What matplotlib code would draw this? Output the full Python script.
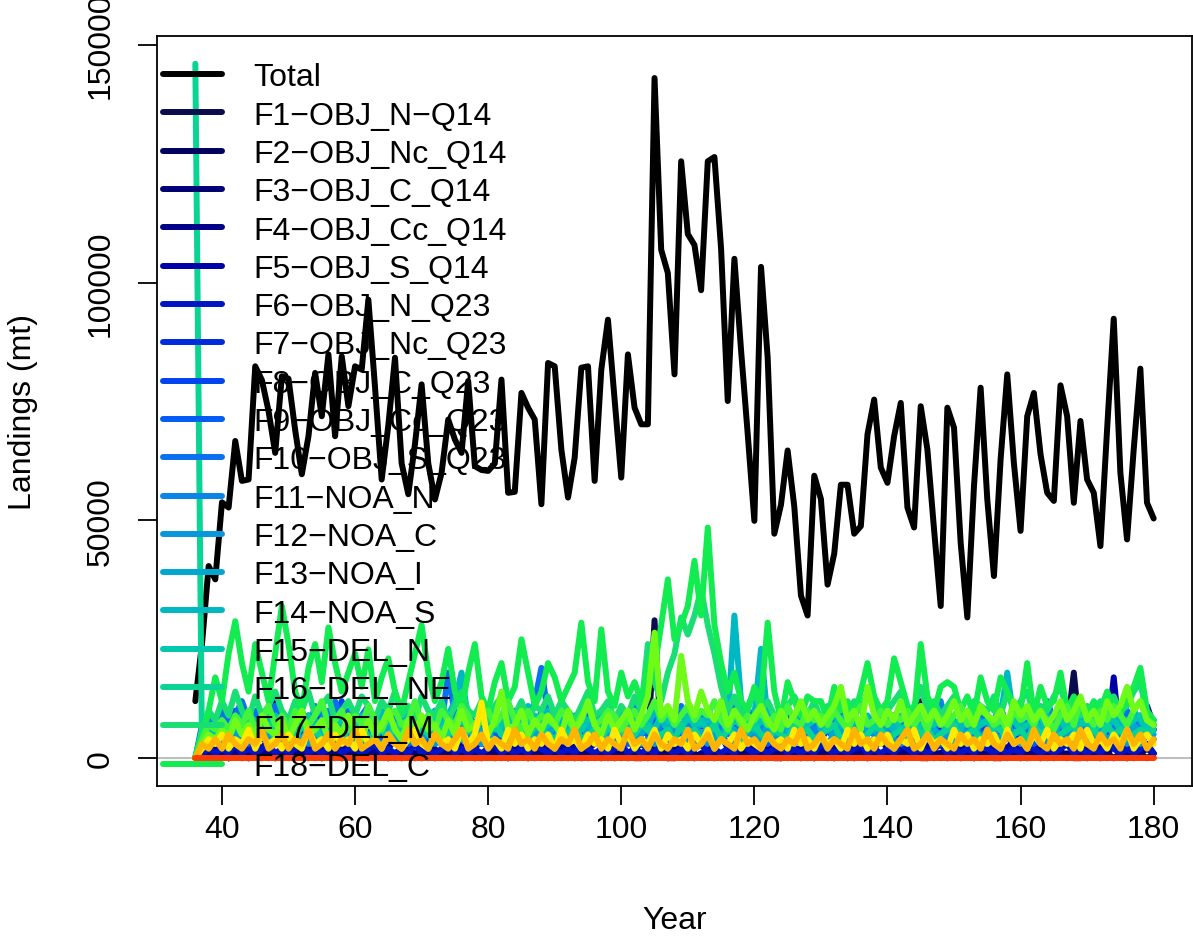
import numpy as np
import matplotlib
matplotlib.use("Agg")
import matplotlib.pyplot as plt

plt.rcParams["font.family"] = ["Liberation Sans", "DejaVu Sans"]

# ---- data (landings in thousand mt, years 36..180) ----
years = list(range(36, 181))

total_kt = [
    12, 24, 40.4, 37.6,
    53.8, 52.7, 66.7, 58.3, 58.6, 82.4, 79.5, 73, 64.2, 80.3,
    79.8, 69, 59.7, 67.7, 81, 71.9, 84.9, 67.7, 84.5, 74,
    82.4, 81.7, 96.4, 78, 58.6, 70, 84.2, 62, 55.5, 66,
    78.6, 62, 54.4, 60, 71.2, 67, 64.2, 79.3, 61.4, 60.6,
    60.4, 62, 79.6, 55.8, 56, 76.8, 73.7, 71.2, 53.4, 83.1,
    82.4, 64.9, 54.8, 63.2, 82.1, 82.4, 58.3, 81.7, 92.2, 75.4,
    59, 84.9, 73.7, 70.2, 70.2, 143, 106.9, 102, 80.7, 125.5,
    110.2, 107.9, 98.4, 125.5, 126.4, 107.1, 75.1, 105, 85.8, 68.2,
    49.9, 103.3, 84.2, 47.2, 53.3, 64.7, 52.9, 34.2, 30, 59.4,
    54.5, 36.5, 43, 57.5, 57.5, 47.2, 48.8, 68.1, 75.4, 61.1,
    57.9, 67.7, 74.7, 52.7, 48.5, 74, 64.9, 48.1, 32, 73.7,
    69.5, 45.3, 29.6, 57.2, 77.9, 54.4, 38.3, 62.8, 80.7, 62,
    47.8, 71.9, 76.8, 63.9, 55.8, 54.1, 78.4, 71.9, 53.7, 70.9,
    58.6, 55.8, 44.6, 69.1, 92.4, 60, 46, 64.9, 81.9, 53.7,
    50.4,
]

fleet_names = [
    "F1\u2212OBJ_N\u2212Q14", "F2\u2212OBJ_Nc_Q14", "F3\u2212OBJ_C_Q14",
    "F4\u2212OBJ_Cc_Q14", "F5\u2212OBJ_S_Q14", "F6\u2212OBJ_N_Q23",
    "F7\u2212OBJ_Nc_Q23", "F8\u2212OBJ_C_Q23", "F9\u2212OBJ_Cc_Q23",
    "F10\u2212OBJ_S_Q23", "F11\u2212NOA_N", "F12\u2212NOA_C",
    "F13\u2212NOA_I", "F14\u2212NOA_S", "F15\u2212DEL_N",
    "F16\u2212DEL_NE", "F17\u2212DEL_M", "F18\u2212DEL_C",
    "F19", "F20", "F21", "F22", "F23",
]

f1 = [
    0, 0, 1, 0,
    1, 0, 1, 1, 0, 1, 2, 1, 0, 1,
    1, 0, 1, 9, 1, 0, 1, 2, 0, 1,
    1, 0, 1, 0, 1, 1, 0, 1, 1, 0,
    1, 0, 1, 1, 0, 1, 0, 1, 1, 0,
    1, 1, 0, 1, 0, 1, 1, 0, 1, 1,
    0, 1, 1, 0, 1, 0, 1, 1, 0, 1,
    1, 0, 1, 0, 2, 29, 3, 1, 0, 5,
    1, 0, 1, 1, 0, 1, 1, 0, 1, 0,
    1, 1, 0, 1, 0, 1, 1, 0, 1, 0,
    1, 1, 0, 1, 1, 0, 1, 0, 1, 1,
    0, 1, 1, 3, 4, 12, 3, 1, 0, 1,
    1, 0, 1, 1, 0, 1, 1, 0, 1, 1,
    1, 0, 1, 1, 3, 9, 2, 6, 18, 4,
    1, 1, 0, 1, 4, 1, 0, 1, 1, 3,
    1,
]
f2 = [
    0, 1, 1, 0,
    1, 0, 1, 0, 1, 1, 0, 1, 0, 1,
    0, 1, 1, 0, 1, 0, 1, 1, 0, 1,
    1, 0, 0, 1, 1, 0, 1, 0, 1, 1,
    0, 1, 0, 1, 1, 0, 1, 1, 0, 1,
    1, 0, 1, 0, 1, 1, 0, 1, 1, 0,
    1, 1, 0, 1, 0, 1, 1, 0, 1, 0,
    1, 1, 0, 0, 1, 1, 1, 0, 0, 1,
    1, 0, 1, 0, 1, 1, 0, 1, 0, 1,
    0, 1, 1, 0, 0, 1, 1, 0, 1, 0,
    1, 0, 1, 1, 0, 1, 1, 0, 1, 1,
    0, 1, 0, 1, 1, 0, 0, 1, 1, 0,
    1, 0, 1, 0, 1, 1, 0, 0, 1, 1,
    0, 1, 1, 0, 1, 0, 1, 1, 0, 0,
    1, 1, 0, 1, 0, 1, 0, 1, 1, 0,
    1,
]
f3 = [
    0, 1, 1, 0,
    1, 0, 2, 1, 0, 3, 1, 0, 13, 2,
    1, 0, 2, 1, 0, 1, 3, 0, 1, 2,
    0, 1, 0, 2, 1, 0, 1, 0, 2, 1,
    0, 1, 2, 0, 1, 0, 2, 1, 0, 1,
    2, 0, 1, 0, 1, 2, 0, 1, 0, 2,
    1, 0, 1, 2, 0, 1, 0, 2, 1, 0,
    1, 0, 2, 1, 0, 3, 1, 0, 2, 1,
    0, 1, 0, 2, 1, 0, 1, 0, 2, 0,
    1, 0, 2, 1, 0, 1, 0, 2, 1, 0,
    1, 2, 0, 1, 0, 2, 1, 0, 1, 0,
    2, 1, 0, 3, 8, 6, 1, 0, 1, 2,
    0, 1, 2, 0, 1, 0, 2, 1, 0, 1,
    2, 0, 1, 2, 0, 3, 1, 8, 6, 1,
    0, 2, 1, 0, 4, 1, 0, 2, 1, 10,
    6,
]
f4 = [
    0, 1, 0, 1,
    1, 0, 1, 1, 0, 1, 2, 1, 0, 1,
    1, 0, 1, 2, 1, 0, 1, 1, 0, 1,
    2, 1, 0, 1, 1, 0, 1, 2, 1, 0,
    1, 1, 0, 1, 2, 1, 0, 1, 1, 0,
    1, 2, 1, 0, 1, 1, 0, 1, 2, 1,
    0, 1, 1, 0, 1, 2, 1, 0, 1, 1,
    0, 1, 2, 1, 0, 1, 1, 0, 1, 2,
    1, 0, 1, 1, 0, 1, 2, 1, 0, 1,
    1, 0, 1, 2, 1, 0, 1, 1, 0, 1,
    2, 1, 0, 1, 1, 0, 1, 2, 1, 0,
    1, 1, 0, 1, 2, 1, 0, 1, 1, 0,
    1, 2, 1, 0, 1, 1, 0, 1, 2, 1,
    0, 1, 1, 0, 1, 2, 1, 0, 1, 1,
    0, 1, 2, 1, 0, 1, 1, 0, 1, 2,
    1,
]
f5 = [
    0, 2, 3, 2,
    4, 2, 3, 5, 2, 3, 2, 4, 6, 3,
    2, 4, 2, 3, 5, 2, 7, 3, 2, 4,
    2, 3, 5, 2, 3, 2, 4, 2, 3, 5,
    2, 2, 4, 3, 2, 5, 2, 3, 2, 4,
    2, 3, 2, 4, 2, 3, 5, 2, 3, 2,
    4, 2, 3, 2, 5, 2, 3, 4, 2, 3,
    2, 4, 2, 3, 2, 10, 3, 2, 4, 2,
    3, 2, 4, 2, 3, 5, 2, 3, 2, 4,
    2, 3, 2, 4, 2, 3, 2, 2, 4, 2,
    3, 2, 2, 4, 3, 2, 2, 3, 2, 4,
    2, 3, 2, 4, 5, 9, 2, 2, 3, 2,
    4, 2, 3, 2, 2, 4, 2, 3, 2, 4,
    2, 3, 2, 4, 2, 5, 3, 8, 11, 4,
    2, 3, 2, 4, 17, 3, 2, 4, 3, 11,
    7,
]
f6 = [
    0, 1, 2, 1,
    2, 1, 3, 1, 2, 1, 2, 3, 1, 2,
    1, 2, 3, 1, 2, 1, 2, 3, 1, 2,
    2, 1, 2, 3, 1, 2, 1, 2, 1, 3,
    1, 2, 1, 2, 3, 1, 2, 1, 2, 1,
    2, 3, 1, 2, 1, 2, 1, 3, 2, 1,
    2, 1, 2, 1, 3, 2, 1, 2, 1, 2,
    3, 1, 2, 1, 2, 1, 3, 2, 1, 2,
    1, 2, 3, 1, 2, 1, 2, 1, 3, 2,
    1, 2, 1, 2, 3, 1, 2, 1, 2, 1,
    3, 2, 1, 2, 1, 2, 3, 1, 2, 1,
    2, 1, 3, 2, 1, 2, 1, 2, 3, 1,
    2, 1, 2, 1, 3, 2, 1, 2, 1, 2,
    1, 3, 2, 1, 2, 1, 2, 3, 1, 2,
    1, 2, 1, 3, 2, 1, 2, 1, 2, 3,
    1,
]
f7 = [
    0, 4, 6, 5,
    7, 5, 4, 6, 8, 5, 4, 7, 5, 6,
    4, 8, 5, 4, 6, 11, 5, 4, 7, 5,
    6, 4, 5, 7, 4, 6, 5, 4, 8, 5,
    4, 6, 5, 7, 4, 5, 6, 4, 5, 7,
    5, 4, 6, 5, 4, 7, 5, 6, 4, 5,
    6, 5, 4, 7, 5, 4, 6, 5, 4, 6,
    5, 4, 7, 5, 6, 4, 5, 8, 4, 6,
    5, 6, 4, 5, 7, 4, 6, 5, 4, 5,
    6, 4, 5, 7, 4, 6, 5, 4, 6, 5,
    4, 6, 5, 4, 7, 5, 4, 6, 5, 4,
    6, 5, 4, 7, 5, 6, 4, 5, 6, 4,
    5, 4, 6, 5, 4, 7, 5, 4, 6, 5,
    4, 6, 5, 4, 6, 5, 7, 4, 5, 6,
    4, 5, 6, 4, 5, 7, 5, 4, 6, 5,
    6,
]
f8 = [
    0, 6, 9, 7,
    8, 6, 10, 7, 5, 9, 6, 8, 11, 7,
    5, 8, 10, 6, 9, 7, 5, 8, 12, 6,
    9, 7, 5, 8, 6, 10, 7, 5, 9, 6,
    8, 5, 7, 10, 6, 8, 5, 9, 7, 6,
    8, 10, 6, 5, 9, 7, 6, 8, 5, 7,
    9, 6, 8, 5, 7, 10, 6, 8, 5, 9,
    6, 7, 5, 9, 6, 8, 7, 5, 8, 6,
    9, 5, 7, 6, 8, 5, 9, 6, 7, 5,
    8, 6, 9, 5, 7, 6, 8, 5, 6, 9,
    5, 7, 6, 8, 5, 9, 6, 7, 5, 8,
    6, 9, 5, 7, 6, 8, 5, 6, 9, 7,
    5, 8, 6, 7, 5, 9, 6, 8, 5, 7,
    6, 5, 8, 7, 6, 9, 5, 7, 6, 8,
    5, 7, 9, 6, 5, 8, 6, 7, 5, 9,
    6,
]
f9 = [
    0, 3, 5, 4,
    5, 3, 6, 4, 3, 5, 7, 4, 3, 5,
    6, 4, 3, 5, 4, 6, 3, 5, 7, 4,
    3, 5, 4, 6, 3, 4, 5, 7, 3, 4,
    5, 3, 6, 4, 5, 3, 4, 6, 5, 3,
    4, 6, 3, 5, 4, 3, 6, 4, 5, 7,
    3, 4, 5, 6, 3, 5, 4, 3, 6, 4,
    5, 3, 4, 6, 5, 3, 4, 5, 3, 6,
    4, 5, 3, 4, 6, 5, 3, 4, 5, 3,
    6, 4, 3, 5, 4, 6, 3, 5, 4, 3,
    5, 6, 4, 3, 5, 4, 6, 3, 4, 5,
    3, 4, 6, 5, 3, 4, 5, 6, 3, 4,
    5, 3, 4, 6, 5, 3, 4, 5, 6, 3,
    4, 5, 3, 4, 6, 5, 3, 4, 5, 6,
    3, 4, 5, 3, 6, 4, 5, 3, 4, 5,
    4,
]
f10 = [
    0, 7, 9, 8,
    10, 7, 9, 12, 8, 10, 7, 9, 11, 8,
    7, 10, 8, 6, 11, 9, 7, 12, 8, 10,
    6, 9, 11, 7, 8, 10, 6, 9, 7, 11,
    8, 6, 10, 7, 18, 9, 7, 10, 6, 8,
    11, 7, 9, 6, 10, 8, 7, 12, 19, 9,
    7, 10, 8, 6, 9, 11, 7, 8, 10, 6,
    9, 7, 11, 8, 6, 10, 7, 9, 8, 11,
    6, 9, 7, 10, 8, 6, 9, 11, 7, 8,
    10, 6, 8, 9, 7, 11, 6, 8, 10, 7,
    9, 6, 8, 10, 7, 9, 11, 6, 8, 7,
    10, 8, 6, 9, 7, 11, 8, 6, 9, 10,
    7, 8, 6, 10, 9, 7, 8, 11, 6, 9,
    8, 7, 10, 6, 12, 8, 9, 7, 10, 6,
    8, 9, 7, 11, 6, 8, 10, 7, 9, 8,
    7,
]
f11 = [
    0, 5, 8, 6,
    7, 5, 9, 6, 8, 5, 7, 10, 6, 8,
    5, 7, 9, 6, 5, 8, 10, 6, 7, 5,
    9, 6, 8, 5, 7, 6, 9, 5, 8, 7,
    6, 9, 5, 7, 8, 6, 10, 5, 7, 9,
    6, 8, 5, 7, 9, 6, 8, 5, 10, 7,
    5, 8, 6, 9, 7, 5, 8, 6, 7, 9,
    5, 7, 8, 6, 9, 5, 7, 8, 6, 10,
    7, 5, 9, 6, 8, 7, 5, 9, 6, 8,
    5, 7, 6, 9, 8, 5, 7, 6, 9, 5,
    8, 6, 7, 5, 9, 6, 8, 7, 5, 9,
    6, 8, 5, 7, 6, 9, 5, 8, 12, 6,
    7, 5, 9, 6, 8, 7, 5, 9, 6, 8,
    5, 7, 6, 9, 12, 6, 8, 5, 7, 9,
    6, 8, 5, 7, 9, 6, 8, 5, 7, 6,
    8,
]
f12 = [
    0, 3, 4, 3,
    4, 3, 5, 3, 4, 3, 5, 4, 3, 4,
    5, 3, 4, 3, 5, 4, 3, 4, 5, 3,
    4, 3, 5, 4, 3, 4, 3, 5, 4, 3,
    4, 5, 3, 4, 3, 5, 4, 3, 4, 3,
    5, 4, 3, 4, 5, 3, 4, 3, 5, 4,
    3, 4, 3, 5, 4, 3, 4, 5, 3, 4,
    3, 5, 4, 3, 4, 3, 5, 4, 3, 4,
    5, 3, 4, 3, 5, 4, 3, 4, 3, 5,
    4, 3, 4, 5, 3, 4, 3, 5, 4, 3,
    4, 3, 5, 4, 3, 4, 5, 3, 4, 3,
    5, 4, 3, 4, 3, 5, 4, 3, 4, 5,
    3, 4, 3, 5, 4, 3, 4, 3, 5, 4,
    3, 4, 5, 3, 4, 3, 5, 4, 3, 4,
    3, 5, 4, 3, 4, 5, 3, 4, 3, 5,
    4,
]
f13 = [
    0, 4, 6, 5,
    6, 4, 7, 5, 6, 4, 8, 5, 6, 4,
    7, 5, 4, 6, 5, 8, 4, 6, 5, 7,
    4, 6, 5, 4, 7, 6, 4, 5, 8, 4,
    6, 5, 7, 4, 6, 5, 4, 7, 5, 6,
    4, 8, 5, 6, 4, 7, 5, 4, 6, 5,
    7, 4, 6, 5, 8, 4, 5, 6, 4, 7,
    5, 6, 4, 5, 7, 6, 4, 5, 8, 6,
    4, 7, 5, 6, 4, 5, 7, 6, 4, 5,
    6, 4, 7, 5, 6, 4, 5, 8, 6, 4,
    5, 7, 4, 6, 5, 4, 7, 5, 6, 4,
    8, 5, 6, 4, 7, 5, 4, 6, 5, 7,
    4, 6, 5, 8, 4, 6, 5, 4, 7, 5,
    6, 4, 5, 7, 6, 4, 8, 5, 6, 4,
    5, 7, 6, 4, 5, 6, 4, 7, 5, 6,
    5,
]
f14 = [
    0, 4, 6, 5,
    7, 5, 8, 6, 10, 7, 5, 9, 6, 8,
    5, 7, 10, 6, 8, 5, 7, 9, 6, 8,
    5, 9, 7, 6, 10, 8, 5, 7, 9, 6,
    8, 6, 10, 7, 9, 12, 18, 8, 6, 9,
    7, 10, 6, 8, 9, 7, 11, 6, 8, 10,
    7, 9, 6, 8, 10, 7, 6, 9, 8, 7,
    10, 6, 8, 9, 7, 10, 8, 6, 9, 7,
    8, 10, 7, 9, 6, 12, 8, 30, 12, 7,
    9, 23, 8, 7, 10, 6, 9, 8, 7, 10,
    6, 8, 9, 7, 10, 6, 8, 9, 7, 8,
    10, 6, 9, 8, 7, 10, 6, 8, 9, 7,
    8, 6, 9, 10, 7, 8, 6, 9, 18, 8,
    7, 10, 8, 6, 9, 7, 10, 8, 6, 9,
    7, 8, 10, 6, 9, 8, 7, 10, 8, 6,
    8,
]
f15 = [
    0, 5, 7, 6,
    8, 6, 7, 9, 6, 8, 7, 6, 9, 7,
    6, 8, 7, 9, 6, 7, 8, 6, 9, 7,
    8, 6, 7, 9, 6, 8, 7, 6, 8, 9,
    6, 7, 8, 6, 9, 7, 8, 6, 7, 9,
    8, 6, 7, 9, 6, 8, 7, 9, 6, 7,
    8, 6, 9, 7, 6, 8, 9, 7, 6, 8,
    7, 9, 6, 8, 7, 6, 9, 8, 7, 6,
    9, 7, 8, 6, 7, 9, 6, 8, 7, 9,
    6, 8, 7, 6, 9, 7, 8, 6, 7, 8,
    9, 6, 7, 8, 6, 9, 7, 8, 6, 7,
    8, 9, 6, 7, 8, 6, 9, 7, 8, 6,
    7, 8, 9, 6, 7, 8, 6, 9, 7, 8,
    6, 7, 8, 9, 6, 7, 8, 6, 9, 7,
    8, 6, 7, 9, 8, 6, 7, 8, 9, 6,
    7,
]
f16 = [
    146, 2, 5, 4,
    6, 4, 7, 5, 4, 6, 5, 7, 4, 6,
    5, 4, 7, 5, 6, 4, 5, 7, 4, 6,
    5, 7, 4, 5, 6, 4, 7, 5, 4, 6,
    7, 5, 4, 6, 5, 7, 4, 6, 5, 4,
    6, 7, 5, 4, 6, 5, 4, 7, 6, 5,
    4, 6, 5, 7, 4, 5, 6, 4, 7, 5,
    6, 4, 5, 7, 6, 4, 5, 6, 4, 7,
    5, 6, 4, 5, 7, 4, 6, 5, 4, 6,
    7, 5, 4, 6, 5, 4, 7, 5, 6, 4,
    5, 6, 7, 4, 5, 6, 4, 5, 7, 6,
    4, 5, 6, 4, 7, 5, 6, 4, 5, 6,
    7, 4, 5, 6, 4, 5, 7, 6, 4, 5,
    6, 4, 7, 5, 6, 4, 5, 6, 7, 4,
    5, 6, 4, 7, 5, 6, 4, 5, 6, 5,
    6,
]
f17 = [
    0, 6, 10, 8,
    12, 9, 14, 10, 8, 13, 9, 11, 14, 10,
    8, 12, 10, 14, 9, 11, 13, 8, 10, 12,
    9, 13, 11, 8, 12, 10, 14, 9, 11, 8,
    13, 10, 9, 12, 8, 11, 14, 10, 9, 12,
    8, 11, 13, 10, 9, 12, 8, 11, 10, 13,
    9, 12, 10, 8, 11, 14, 9, 10, 12, 8,
    11, 9, 13, 10, 24, 16, 12, 18, 22, 29.6,
    26, 30, 35.5, 28, 22, 15, 10, 13, 9, 11,
    14, 10, 12, 9, 8, 11, 13, 10, 9, 12,
    8, 11, 10, 13, 9, 12, 10, 14, 11, 9,
    10, 12, 14, 9, 11, 15, 10, 12, 9, 11,
    13, 10, 9, 12, 11, 10, 13, 9, 14, 10,
    12, 14, 9, 11, 10, 13, 15, 10, 12, 9,
    11, 10, 12, 9, 13, 10, 11, 14, 16, 9,
    8,
]
f18 = [
    0.5, 4, 10, 17,
    12, 22, 28.8, 20, 14, 24, 18, 12, 22, 32,
    24, 14, 10, 19, 24, 16, 27.5, 20, 14, 18,
    22, 15, 22.9, 12, 17, 21, 14, 10, 16, 22,
    28, 18, 12, 16, 23, 14, 10, 18, 24, 13,
    10, 16, 20, 12, 15, 25, 18, 11, 14, 20,
    17, 12, 15, 18, 28.5, 16, 12, 27.1, 14, 11,
    18, 13, 16, 12, 20, 19, 28, 37.6, 25, 28,
    32, 41.5, 30, 48.5, 28, 20, 14, 18, 12, 10,
    15, 12, 28.5, 14, 8, 16, 12, 9, 13, 12,
    12, 8, 15, 10, 12, 9, 14, 20, 13, 10,
    12, 21, 16, 11, 9, 24, 13, 10, 15, 16,
    15, 10, 13, 9, 17, 12, 10, 17, 14, 11,
    10, 20, 9, 15, 11, 12, 18, 10, 13, 11,
    9, 12, 10, 14, 11, 9, 13, 15, 19, 10,
    8,
]
f19 = [
    0, 4, 7, 6,
    8, 6, 9, 7, 10, 6, 8, 11, 7, 9,
    6, 10, 8, 7, 9, 12, 7, 8, 10, 6,
    9, 7, 11, 8, 6, 9, 10, 7, 8, 12,
    7, 9, 6, 10, 8, 7, 11, 9, 6, 8,
    10, 7, 9, 12, 8, 6, 10, 7, 9, 8,
    7, 10, 8, 6, 9, 11, 7, 8, 10, 9,
    6, 8, 10, 7, 9, 12, 8, 10, 7, 9,
    11, 8, 10, 9, 12, 8, 6, 10, 7, 9,
    8, 10, 7, 9, 6, 11, 8, 7, 10, 8,
    9, 7, 10, 8, 6, 9, 11, 7, 8, 10,
    7, 9, 8, 10, 7, 9, 6, 10, 8, 7,
    9, 11, 7, 8, 10, 9, 7, 8, 6, 10,
    8, 9, 7, 10, 8, 6, 9, 11, 7, 12,
    9, 7, 10, 8, 11, 9, 7, 10, 12, 8,
    7,
]
f20 = [
    0, 3, 5, 4,
    6, 4, 8, 5, 7, 4, 9, 6, 5, 8,
    4, 7, 10, 5, 6, 8, 4, 7, 5, 9,
    6, 4, 8, 5, 7, 10, 6, 4, 8, 5,
    9, 6, 7, 4, 8, 5, 10, 6, 7, 9,
    5, 8, 14, 6, 7, 10, 5, 8, 6, 9,
    7, 5, 10, 6, 8, 12, 7, 5, 9, 6,
    8, 10, 6, 9, 13, 26.4, 9, 11, 8, 21.5,
    12, 9, 14, 10, 8, 12, 7, 10, 8, 6,
    9, 11, 8, 6, 10, 7, 9, 12, 8, 10,
    7, 9, 11, 15, 8, 10, 6, 15, 9, 7,
    10, 8, 12, 7, 9, 11, 8, 10, 7, 9,
    12, 8, 10, 7, 11, 9, 8, 10, 7, 12,
    9, 11, 8, 10, 7, 9, 12, 8, 10, 13,
    8, 10, 7, 12, 9, 11, 15, 10, 12, 8,
    7,
]
f21 = [
    0, 2, 4, 3,
    5, 2, 4, 3, 6, 2, 5, 3, 4, 2,
    5, 3, 2, 6, 3, 4, 2, 5, 3, 4,
    2, 6, 3, 4, 2, 5, 3, 2, 4, 6,
    3, 2, 5, 3, 4, 2, 6, 3, 5, 11.7,
    3, 4, 2, 6, 3, 5, 2, 4, 3, 5,
    2, 6, 3, 4, 2, 5, 3, 4, 2, 6,
    3, 5, 2, 4, 3, 6, 2, 5, 3, 4,
    2, 5, 3, 6, 2, 4, 3, 5, 2, 4,
    3, 2, 5, 3, 4, 2, 6, 3, 4, 2,
    5, 3, 4, 2, 6, 3, 5, 2, 4, 3,
    5, 2, 4, 3, 6, 2, 5, 3, 4, 2,
    6, 3, 5, 2, 4, 3, 5, 2, 6, 3,
    4, 2, 5, 3, 6, 2, 4, 3, 5, 2,
    6, 3, 4, 2, 5, 3, 6, 2, 4, 5,
    3,
]
f22 = [
    0, 3, 2, 4,
    2, 5, 3, 2, 4, 3, 6, 2, 3, 5,
    2, 4, 3, 6, 2, 3, 5, 2, 4, 3,
    6, 2, 3, 4, 2, 5, 3, 2, 6, 3,
    4, 2, 5, 3, 2, 4, 6, 2, 3, 5,
    2, 4, 3, 2, 6, 3, 4, 2, 5, 3,
    2, 4, 3, 6, 2, 3, 5, 2, 4, 3,
    2, 6, 3, 4, 2, 5, 3, 2, 4, 3,
    6, 2, 3, 5, 2, 4, 3, 2, 6, 3,
    4, 2, 5, 3, 2, 4, 3, 6, 2, 3,
    5, 2, 4, 3, 2, 6, 3, 4, 2, 5,
    3, 2, 4, 6, 2, 3, 5, 2, 4, 3,
    2, 5, 3, 4, 2, 6, 3, 2, 5, 3,
    4, 2, 6, 3, 2, 5, 3, 4, 2, 6,
    3, 2, 5, 3, 4, 2, 6, 3, 5, 2,
    4,
]
f23 = [0] * 145

fleets_kt = [f1, f2, f3, f4, f5, f6, f7, f8, f9, f10, f11, f12,
             f13, f14, f15, f16, f17, f18, f19, f20, f21, f22, f23]

fleet_colors = [
    "#0B0B50", "#00005F", "#000074", "#000089", "#0000A8", "#0014C8",
    "#002CDE", "#0044EE", "#005CF4", "#0A70F0", "#0A84E8", "#0896DC",
    "#00A8D0", "#00B8C4", "#00C8AC", "#0AD494", "#18DE74", "#12EC50",
    "#44F43A", "#70FA18", "#FFEA00", "#FFB400", "#FF3A00",
]

# ---- plot ----
fig = plt.figure(figsize=(11.93, 9.37), dpi=100)
ax = fig.add_axes([157 / 1193, 1 - 787 / 937, 1035 / 1193, 750 / 937])

ax.axhline(0, color="#BEBEBE", lw=1.5, zorder=0)
lw = 4.3
handles = []
h, = ax.plot(years, np.array(total_kt) * 1000, color="black", lw=lw,
             solid_joinstyle="round", solid_capstyle="round", label="Total")
handles.append(h)
for name, vals, col in zip(fleet_names, fleets_kt, fleet_colors):
    h, = ax.plot(years, np.array(vals) * 1000, color=col, lw=lw,
                 solid_joinstyle="round", solid_capstyle="round", label=name)
    handles.append(h)

ymax = 146000
ax.set_xlim(36 - 0.04 * 144, 180 + 0.04 * 144)
ax.set_ylim(-0.04 * ymax, 1.04 * ymax)
ax.set_xticks([40, 60, 80, 100, 120, 140, 160, 180])
ax.set_yticks([0, 50000, 100000, 150000])
ax.set_yticklabels(["0", "50000", "100000", "150000"], rotation=90, va="center")
ax.tick_params(labelsize=23, length=14, width=1.3)
ax.tick_params(axis="x", pad=6)
ax.tick_params(axis="y", pad=16)
for s in ax.spines.values():
    s.set_linewidth(1.3)

ax.set_xlabel("Year", fontsize=23, labelpad=44)
ax.set_ylabel("Landings (mt)", fontsize=23, labelpad=34)

# legend lists Total + F1..F18 only (the rest ran off the plot in the original)
ax.legend(handles=handles[:19], loc="upper left", frameon=False,
          fontsize=23, handlelength=1.85, handletextpad=0.97,
          labelspacing=0.26, borderpad=0, borderaxespad=0.19,
          bbox_to_anchor=(0, 0.973))

fig.savefig("out.png", dpi=100)
